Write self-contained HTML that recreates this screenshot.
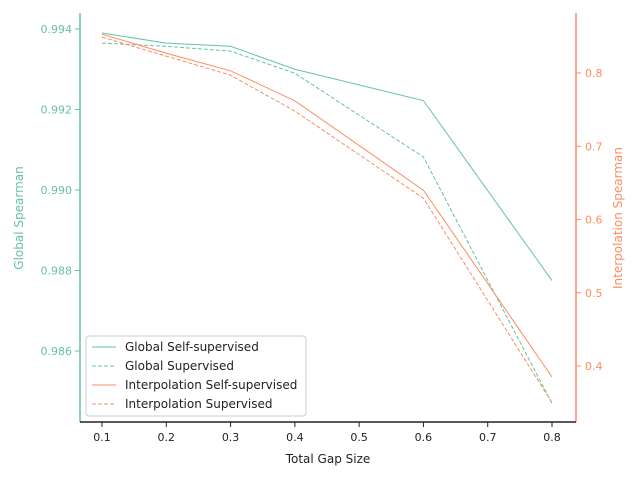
<!DOCTYPE html>
<html><head><meta charset="utf-8"><style>
body{margin:0;background:#fff}
svg{font-family:"DejaVu Sans","Liberation Sans",sans-serif}
</style></head><body>
<svg id="chart" width="640" height="480"></svg>
<script>
const xValues=[0.1,0.2,0.3,0.4,0.6,0.8];
const globalSelf=[0.9939,0.99365,0.99357,0.9930,0.99222,0.98775];
const globalSup=[0.99365,0.99357,0.99345,0.9929,0.99082,0.9847];
const interpSelf=[0.853,0.827,0.803,0.762,0.640,0.385];
const interpSup=[0.849,0.823,0.797,0.748,0.629,0.350];
const xTicks=[0.1,0.2,0.3,0.4,0.5,0.6,0.7,0.8];
const leftTicks=[0.986,0.988,0.990,0.992,0.994];
const rightTicks=[0.4,0.5,0.6,0.7,0.8];

const G='#66c2a5',O='#fc8d62',NS='http://www.w3.org/2000/svg';
const svg=document.getElementById('chart');
const L=80,R=576,T=13,B=422;
const xs=v=>102+(v-0.1)/0.7*450;
const yl=v=>29+(0.994-v)/0.008*322;
const yr=v=>73+(0.8-v)/0.4*293;
function el(tag,attrs,parent){const e=document.createElementNS(NS,tag);for(const k in attrs)e.setAttribute(k,attrs[k]);(parent||svg).appendChild(e);return e;}

let s=el('line',{x1:L,y1:T,x2:L,y2:B,stroke:G,'stroke-width':1.5});


s=el('line',{x1:R,y1:T,x2:R,y2:B,stroke:O,'stroke-width':1.5});


s=el('line',{x1:L,y1:B,x2:R,y2:B,stroke:'#222','stroke-width':1.5});



xTicks.forEach(v=>{
  const x=xs(v);
  el('line',{x1:x,y1:B,x2:x,y2:B+5,stroke:'#222'});
  const t=el('text',{x:x,y:B+19,'text-anchor':'middle','font-size':11,fill:'#222'});
  t.textContent=v.toFixed(1);
  
  
});
leftTicks.forEach(v=>{
  const y=yl(v);
  el('line',{x1:L-5,y1:y,x2:L,y2:y,stroke:G});
  const t=el('text',{x:L-8,y:y+4,'text-anchor':'end','font-size':11,fill:G});
  t.textContent=v.toFixed(3);
  
  
});
rightTicks.forEach(v=>{
  const y=yr(v);
  el('line',{x1:R,y1:y,x2:R+5,y2:y,stroke:O});
  const t=el('text',{x:R+9,y:y+4,'text-anchor':'start','font-size':11,fill:O});
  t.textContent=v.toFixed(1);
  
  
});

let t=el('text',{x:328,y:463,'text-anchor':'middle','font-size':12,fill:'#222'});
t.textContent='Total Gap Size';


t=el('text',{x:0,y:0,'text-anchor':'middle','font-size':12,fill:G,transform:'translate(23,218) rotate(-90)'});
t.textContent='Global Spearman';


t=el('text',{x:0,y:0,'text-anchor':'middle','font-size':12,fill:O,transform:'translate(622,218) rotate(-90)'});
t.textContent='Interpolation Spearman';



function line(vals,scale,color,dash,name){
  const pts=vals.map((v,i)=>xs(xValues[i])+','+scale(v)).join(' ');
  const p=el('polyline',{points:pts,fill:'none',stroke:color,'stroke-width':1,'stroke-dasharray':dash?'4,2':'none'});
  
  
}
line(globalSelf,yl,G,false,'global-self-supervised-line');
line(globalSup,yl,G,true,'global-supervised-line');
line(interpSelf,yr,O,false,'interpolation-self-supervised-line');
line(interpSup,yr,O,true,'interpolation-supervised-line');

const lg=el('g',{});


el('rect',{x:86,y:336,width:220,height:80,rx:3,fill:'#fff','fill-opacity':0.8,stroke:'#ccc'},lg);
const entries=[['Global Self-supervised',G,false],['Global Supervised',G,true],['Interpolation Self-supervised',O,false],['Interpolation Supervised',O,true]];
entries.forEach((e,i)=>{
  const y=347+i*19;
  const g=el('g',{},lg);
  
  
  el('line',{x1:92,y1:y,x2:116,y2:y,stroke:e[1],'stroke-dasharray':e[2]?'4,2':'none'},g);
  const tx=el('text',{x:125,y:y+4,'font-size':12,fill:'#222'},g);
  tx.textContent=e[0];
});
</script>
</body></html>
